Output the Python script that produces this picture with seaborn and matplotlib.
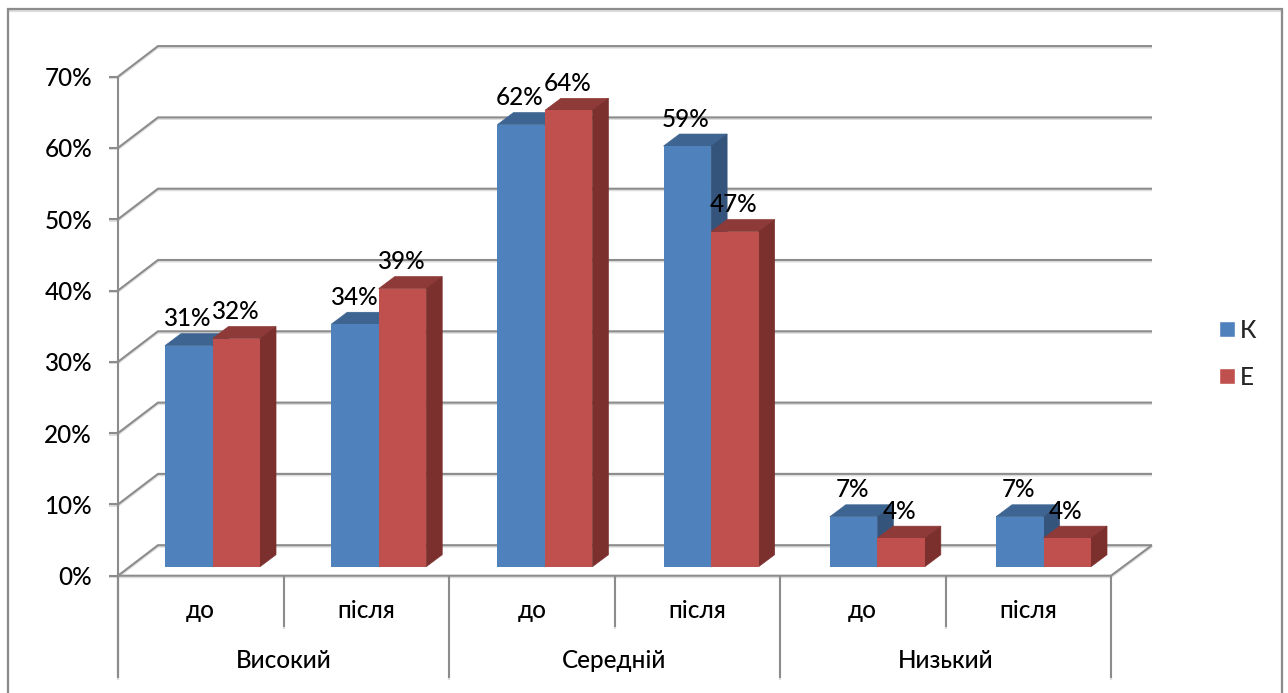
import matplotlib
matplotlib.use('Agg')
import matplotlib.pyplot as plt
from matplotlib.lines import Line2D
from matplotlib.patches import Polygon
import pandas as pd
import seaborn as sns

# values
levels = ['Високий', 'Середній', 'Низький']
stages = ['до', 'після']
series_names = ['К', 'Е']
values_k = [31, 34, 62, 59, 7, 7]
values_e = [32, 39, 64, 47, 4, 4]
y_ticks = [0, 10, 20, 30, 40, 50, 60, 70]

colors = {'К': '#4F81BD', 'Е': '#C0504D'}
top_colors = {'К': '#3E6592', 'Е': '#8E3A38'}
side_colors = {'К': '#34547C', 'Е': '#7B302E'}
line_color = '#8C8C8C'
shadow_color = '#DEDEDE'
font_list = ['Lato', 'Noto Sans', 'DejaVu Sans']
font_size = 17.5
font_weight = 'medium'

# chart geometry in pixels of the 1288x693 picture
W, H = 1288, 693
x_left, x_right = 118, 1111
y_zero = 575.7
px_per_pct = 7.13
wall_dx, wall_dy = 40, 30.5
bar_x0 = 212.5
bar_step = 166.2
cat_step = (x_right - x_left) / 6
bar_base = 566.7
depth_dx, depth_dy = 16, 12

rows = []
for i in range(6):
    key = f'{levels[i // 2]} {stages[i % 2]}'
    rows.append({'group': key, 'series': 'К', 'value': values_k[i]})
    rows.append({'group': key, 'series': 'Е', 'value': values_e[i]})
df = pd.DataFrame(rows)

sns.set_theme(style='white')
plt.rcParams['font.family'] = font_list
plt.rcParams['font.weight'] = font_weight

fig = plt.figure(figsize=(W / 100, H / 100), dpi=100)
ax = fig.add_axes([0, 0, 1, 1])
sns.barplot(data=df, x='group', y='value', hue='series', hue_order=series_names,
            palette=colors, width=95 / bar_step, gap=0, saturation=1, ax=ax)
ax.set_xlim((0 - bar_x0) / bar_step, (W - bar_x0) / bar_step)
ax.set_ylim((bar_base - H) / px_per_pct, bar_base / px_per_pct)
ax.axis('off')


def xy(px, py):
    return (px - bar_x0) / bar_step, (bar_base - py) / px_per_pct


def pline(xs, ys, lw=1.5, z=1):
    # soft shadow one pixel under the line, as in the office chart style
    for dy, col, zz in [(1.5, shadow_color, z - 0.5), (0, line_color, z)]:
        pts = [xy(a, b + dy) for a, b in zip(xs, ys)]
        ax.add_line(Line2D([p[0] for p in pts], [p[1] for p in pts], color=col,
                           lw=lw, zorder=zz, solid_capstyle='butt', solid_joinstyle='miter'))


# outer frame, open at the bottom
pline([8, 8, 1282, 1282], [H, 9, 9, H], lw=1.6)

# walls and floor
for t in y_ticks:
    yt = y_zero - t * px_per_pct
    pline([109, x_left], [yt, yt])
    pline([x_left, x_left + wall_dx, 1152], [yt, yt - wall_dy, yt - wall_dy])
    ax.text(*xy(92, yt + 2), f'{t}%', ha='right', va='center', fontsize=font_size,
            color='black', zorder=10)
pline([x_left, x_left], [y_zero - 70 * px_per_pct, 678])
pline([x_left, x_right, x_right + 41], [y_zero, y_zero, y_zero - wall_dy])

# two-level category axis
for i in range(7):
    xs = x_left + i * cat_step
    pline([xs, xs], [y_zero, 678 if i % 2 == 0 else 627])
    if i < 6:
        ax.text(*xy(xs + cat_step / 2, 611), stages[i % 2], ha='center', va='center',
                fontsize=font_size, color='black')
for i, level in enumerate(levels):
    ax.text(*xy(x_left + (2 * i + 1) * cat_step, 661), level, ha='center', va='center',
            fontsize=font_size, color='black')

# 3D faces and labels for each bar, built from the bars seaborn drew
ddx, ddy = depth_dx / bar_step, depth_dy / px_per_pct
for s, (name, container) in enumerate(zip(series_names, ax.containers)):
    for bar in container:
        x0, x1 = bar.get_x(), bar.get_x() + bar.get_width()
        h = bar.get_height()
        bar.set_zorder(4 + 2 * s)
        bar.set_edgecolor('none')
        ax.add_patch(Polygon([(x0, h), (x1, h), (x1 + ddx, h + ddy), (x0 + ddx, h + ddy)],
                             closed=True, fc=top_colors[name], ec=top_colors[name],
                             lw=0.5, zorder=3 + 2 * s))
        ax.add_patch(Polygon([(x1, 0), (x1 + ddx, ddy), (x1 + ddx, h + ddy), (x1, h)],
                             closed=True, fc=side_colors[name], ec=side_colors[name],
                             lw=0.5, zorder=3 + 2 * s))
        ax.annotate(f'{h:.0f}%', (bar.get_x() + bar.get_width() / 2, h),
                    xytext=(-1.5 * 0.72, 27 * 0.72), textcoords='offset points', ha='center',
                    va='center', fontsize=font_size, color='black', zorder=10)

leg = ax.legend(loc='upper left', bbox_to_anchor=(1219 / W, 1 - 319 / H),
                bbox_transform=fig.transFigure, frameon=False, fontsize=font_size,
                handlelength=0.64, handleheight=0.64, handletextpad=0.2,
                labelspacing=0.97, borderpad=0, borderaxespad=0, title=None)

fig.savefig('out.png', dpi=100)
